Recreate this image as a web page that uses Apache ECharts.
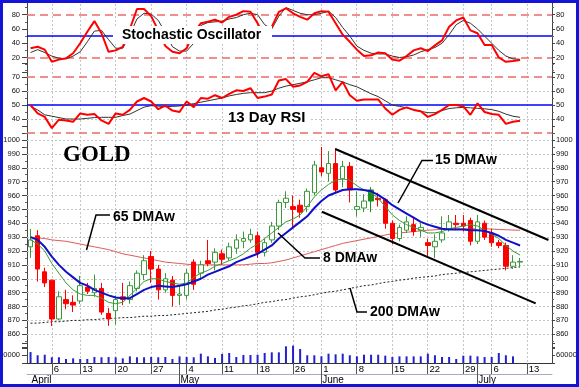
<!DOCTYPE html>
<html><head><meta charset="utf-8">
<script src="https://cdn.jsdelivr.net/npm/echarts@6/dist/echarts.min.js"></script>
<style>
html,body{margin:0;padding:0;background:#fff}
#wrap{position:relative;width:579px;height:387px;overflow:hidden}
#c{position:absolute;left:0;top:0;width:579px;height:387px}
#frame{position:absolute;left:0;top:0;width:579px;height:387px;box-sizing:border-box;border:3px solid #1414d8;pointer-events:none}
</style></head><body>
<div id="wrap"><div id="c"></div><div id="frame"></div></div>
<script>
// ---- categories (trading days) ----
const dates = ['2009-04-01','2009-04-02','2009-04-03','2009-04-06','2009-04-07','2009-04-08','2009-04-09','2009-04-13','2009-04-14','2009-04-15','2009-04-16','2009-04-17','2009-04-20','2009-04-21','2009-04-22','2009-04-23','2009-04-24','2009-04-27','2009-04-28','2009-04-29','2009-04-30',
'2009-05-01','2009-05-04','2009-05-05','2009-05-06','2009-05-07','2009-05-08','2009-05-11','2009-05-12','2009-05-13','2009-05-14','2009-05-15','2009-05-18','2009-05-19','2009-05-20','2009-05-21','2009-05-22','2009-05-26','2009-05-27','2009-05-28','2009-05-29',
'2009-06-01','2009-06-02','2009-06-03','2009-06-04','2009-06-05','2009-06-08','2009-06-09','2009-06-10','2009-06-11','2009-06-12','2009-06-15','2009-06-16','2009-06-17','2009-06-18','2009-06-19','2009-06-22','2009-06-23','2009-06-24','2009-06-25','2009-06-26','2009-06-29','2009-06-30',
'2009-07-01','2009-07-02','2009-07-06','2009-07-07','2009-07-08','2009-07-09','2009-07-10','2009-07-13','2009-07-14','2009-07-15','2009-07-16'];
const weekTicks = ['2009-04-06','2009-04-13','2009-04-20','2009-04-27','2009-05-04','2009-05-11','2009-05-18','2009-05-26','2009-06-01','2009-06-08','2009-06-15','2009-06-22','2009-06-29','2009-07-06','2009-07-13'];
const monthStarts = ['2009-04-01','2009-05-01','2009-06-01','2009-07-01'];
const monthNames = ['April','May','June','July'];

// ---- price (OHLC) ----
const open  = [923,931,905,899,871,885,883,884,894,890, 893,875,877,887,885,893,903,916,907,892, 899,888,888,912,904,913,912,918,915,922, 927,928,931,919,928,938,955,952,953,952, 962,980,976,983,972,981,950,951,956,958, 957,940,929,935,939,935,926,923,928,936, 940,940,942,927,940,933,926,924,909,912];
const close = [928,907,897,871,887,882,881,895,891,893, 876,871,885,885,895,904,913,907,892,900, 888,889,904,896,910,911,919,914,923,928, 929,932,919,926,938,955,958,950,948,963, 982,977,983,964,981,964,952,956,964,957, 940,929,937,941,934,937,924,927,933,941, 939,938,927,941,930,926,924,909,912,912.5];
const high  = [936,935,908,899,891,892,888,902,897,903, 897,879,888,897,898,906,917,920,910,904, 902,895,907,914,913,928,922,921,926,932, 934,936,934,929,941,957,963,960,957,965, 985,995,992,994,985,984,963,961,966,962, 958,942,939,945,944,940,929,932,945,946, 946,946,944,946,942,936,928,926,917,915];
const low   = [915,898,894,866,870,878,876,882,889,887, 874,866,867,881,882,891,899,897,885,890, 880,881,885,892,900,909,906,910,913,918, 922,926,915,916,926,935,951,937,944,948, 960,974,970,962,966,955,945,948,948,952, 936,925,927,933,931,930,915,915,926,934, 935,934,924,925,928,923,922,906,907,908];
const ma8   = [928,925,920,911,904,897,892,889,888,888, 886,883,882,883,888,893,898,900,900,898, 897,896,897,901,904,906,909,911,913,915, 918,922,925,929,933,937,941,943,946,952, 959,964,968,971,972,971,967,964,962,958, 952,946,942,939,937,935,933,933,934,936, 937,938,939,938,935,932,929,924,920,917];
const ma15  = [930,928,923,916,910,905,901,897,895,892, 890,888,886.5,886,886,889,892,894,895,894.5, 894,895,896,898,900,903,905,907,909,912, 914,916,918,921,924,929,933,937,941,945, 951,956,960,962,964,964.5,964.5,964,963,960.5, 957,953,950,947,944,941,939,937.5,936,935.5, 935.5,935.5,935,935,934.5,933,931,928,926,924];
const ma65  = [930,929.5,929,928,927.5,927,926,925,924,923, 922,921,919.5,918,917,916,915,914,913,912, 911.5,911,910.5,910,910,910,910,910,910,910, 910,910.5,911,911,911.5,912.5,913.5,915,916.5,918, 919.5,921,922.5,924,925.5,926.5,927.5,928.5,929.5,930.5, 931.5,932.5,933,933.5,934,934.5,935,935.3,935.6,935.8, 936,936,936,936,936,935.8,935.5,935.3,935.1,935];
const ma200 = [868,868,868.5,869,869,869.5,870,870,870.5,870.5, 871,871.5,871.5,872,872,872.5,873,873,873.5,873.5, 874,874.5,875,875.5,876,876.5,877.5,878,879,879.5, 880.5,881,882,883,883.5,884.5,885,886,887,887.5, 888.5,889.5,890.5,891,892,893,894,895,895.5,896.5, 897.5,898,899,899.5,900.5,901,901.5,902,903,903.5, 904,904.5,905,905.5,906,906.5,907,907.5,908,908.7];
const volume = [82000,58000,62000,43000,43000,30000,35000,30000,30000,45000, 43000,45000,43000,35000,50000,43000,43000,45000,43000,45000, 30000,50000,45000,43000,70000,50000,38000,68000,75000,45000, 60000,60000,62000,75000,80000,80000,125000,130000,105000,58000, 58000,50000,70000,65000,70000,58000,50000,62000,62000,62000, 55000,45000,50000,50000,50000,50000,70000,58000,45000,45000, 30000,55000,55000,50000,45000,45000,75000,58000,50000,null];
const upperChannel = [[42.95,993.5],[73.0,927.9]];
const lowerChannel = [[41.07,948.3],[71.2,882.3]];

// ---- oscillators ----
const stochK = [33,35,31,14,17,19,26,40,56,71, 54,28,30,35,60,88,88,78,58,36, 28,26,33,55,68,70,73,69,77,80, 85,84,68,48,63,84,89,82,77,73, 82,85,84,68,52,42,31,22,23,27, 26,17,15.5,22,30,33,29,37,44,63, 72,76,58,54,37.5,37.5,20,14,15,16.5];
const stochD = [27,31,27,22,19,18,22,28,42,57, 58,45,33,33,52,74,82,81,72,55, 35,29,29,40,65,69,70,71,74,76, 80,82,80,66,60,78,90,86,82,80, 80,82,85,76,62,50,36,30,26,25, 25,22,20,21,23.5,28,31,34,40,52, 66,72,68,60,50,40,30,22,18,17.5];
const rsi    = [50,44,41.5,33.5,39.5,39,38,44,43,43.5, 39,36.5,44,43,46.5,52.5,55,52.5,47,49.5, 46,45,52.5,48.5,55,54.5,57,55,58,60.5, 60,62,55,56,57.5,67.5,68.5,63,64,66.5, 73,70.5,72,60.5,66.5,57,53,54,54,54, 47.5,43,46.5,48.3,46.5,45.5,41.5,43.5,46.5,50, 50,49,43,51.2,45,43.6,43,36.5,38,38.8];
const rsiSig = [49,46.5,43,42,41,40,40,40,40.5,41, 41.2,41.2,41.2,42.5,43.5,46,48.5,49.5,49.2,48.8, 49,49.3,50,51,52,53,54,55,56.5,57.5, 58.3,58.8,58.8,58.8,60,62,63.5,64.5,65.5,66.6, 68,69.5,69.5,68,66.5,64.5,63,60.5,58,56, 53,50,49,48,46.5,45.5,44.5,44.5,46,47.5, 48,48.3,48,47.6,47.3,46.7,45.5,43.5,42,41.2];

// ---- axis ticks ----
const priceGrid = [860,870,880,890,900,910,920,930,940,950,960,970,980,990,1000];
const stochLevels = {over:80, mid:50, under:20};
const rsiLevels = {over:70, mid:50, under:30, grid:[60,40]};
const specialCandles = {'2009-06-10':'#1e8c1e'};

const F = '"Liberation Sans", Arial, sans-serif';
const chart = echarts.init(document.getElementById('c'), null, {renderer:'canvas', width:579, height:387});

const candleData = dates.slice(0, open.length).map((d, i) => {
  const v = [open[i], close[i], low[i], high[i]];
  if (specialCandles[d]) return {value: v, itemStyle: {color: specialCandles[d], borderColor: specialCandles[d]}};
  return v;
});

const L = 27, R = 27;
const grids = [
  {left:L, right:R, top:0.43, height:71.33, outerBoundsMode:'none'},
  {left:L, right:R, top:63, height:84, outerBoundsMode:'none'},
  {left:L, right:R, top:126.125, height:222, outerBoundsMode:'none'},
  {left:L, right:R, top:343, height:20, outerBoundsMode:'none'},
  {left:30.5, right:30.9, top:4, height:359, outerBoundsMode:'none'}
];
const hiddenCat = gi => ({type:'category', gridIndex:gi, data:dates, boundaryGap:true, show:false});
const yStyle = (gi, pos, min, max, interval, fmt, minor) => ({
  type:'value', gridIndex:gi, position:pos, min:min, max:max, interval:interval,
  axisLine:{show:true, onZero:false, lineStyle:{color:'#444', width:1}},
  axisTick:{show:true, length: pos==='left'?5:3, lineStyle:{color:'#444'}},
  minorTick:{show:!!minor, splitNumber:minor||1, length:2, lineStyle:{color:'#666'}},
  splitLine:{show:false},
  axisLabel:{show:true, fontFamily:F, fontSize:7.5, color:'#111', margin: pos==='left'?7:4, formatter:fmt}
});
const fStoch = v => (v>=20 && v<=80) ? String(v) : '';
const fRsi = v => (v>=40 && v<=70) ? String(v) : '';
const fPrice = v => (v>=860 && v<=1000) ? String(v) : '';
const fVol = v => v===60000 ? '60000' : '';

const refLine = (v, color, type, w) => ({yAxis:v, lineStyle:{color:color, type:type, width:w}});

const option = {
  animation:false,
  backgroundColor:'#fff',
  grid: grids,
  xAxis: [
    hiddenCat(0), hiddenCat(1), hiddenCat(2),
    {type:'value', gridIndex:2, min:-0.5, max:dates.length-0.5, show:false},
    {type:'category', gridIndex:3, data:dates, boundaryGap:true, position:'bottom',
      axisLine:{show:true, onZero:false, lineStyle:{color:'#333', width:1}}, axisTick:{show:false}, axisLabel:{show:false}},
    {type:'category', gridIndex:3, data:dates, boundaryGap:true, position:'bottom', offset:11,
      axisLine:{show:true, onZero:false, lineStyle:{color:'#aab', width:1}}, axisTick:{show:false}, axisLabel:{show:false}},
    {type:'category', gridIndex:4, data:dates, boundaryGap:false, position:'bottom',
      axisLine:{show:false, onZero:false},
      axisTick:{show:true, length:11, interval:(i,v)=>weekTicks.indexOf(v)>=0, lineStyle:{color:'#555'}},
      axisLabel:{show:true, interval:(i,v)=>weekTicks.indexOf(v)>=0, formatter:v=>String(parseInt(v.slice(8),10)),
        align:'left', padding:[0,0,0,2], margin:1, fontFamily:F, fontSize:9.5, color:'#000'},
      splitLine:{show:true, interval:(i,v)=>weekTicks.indexOf(v)>=0, lineStyle:{color:'#c4c4c4', type:[2,2], width:1}}},
    {type:'category', gridIndex:4, data:dates, boundaryGap:false, position:'bottom',
      axisLine:{show:false, onZero:false},
      axisTick:{show:true, length:22, interval:(i,v)=>i>0 && monthStarts.indexOf(v)>=0, lineStyle:{color:'#555'}},
      axisLabel:{show:true, interval:(i,v)=>monthStarts.indexOf(v)>=0, formatter:v=>monthNames[monthStarts.indexOf(v)],
        align:'left', padding:[0,0,0,1], margin:12, fontFamily:F, fontSize:10, color:'#000'},
      splitLine:{show:false}}
  ],
  yAxis: [
    yStyle(0,'left',0,100,20,fStoch,2), yStyle(0,'right',0,100,20,fStoch,2),
    yStyle(1,'left',20,80,10,fRsi,2), yStyle(1,'right',20,80,10,fRsi,2),
    yStyle(2,'left',850,1010,10,fPrice,2), yStyle(2,'right',850,1010,10,fPrice,2),
    yStyle(3,'left',0,150000,60000,fVol,0), yStyle(3,'right',0,150000,60000,fVol,0),
    {type:'value', gridIndex:4, show:false}
  ],
  series: [
    // stochastic
    {type:'line', xAxisIndex:0, yAxisIndex:0, data:stochD, symbol:'none', z:3, lineStyle:{color:'#333', width:1}},
    {type:'line', xAxisIndex:0, yAxisIndex:0, data:stochK, symbol:'none', z:4, lineStyle:{color:'#ff0000', width:2},
      markLine:{silent:true, symbol:'none', label:{show:false}, z:2,
        data:[refLine(stochLevels.over,'#f06a6a',[8,5],1.5), refLine(stochLevels.under,'#f06a6a',[8,5],1.5), refLine(stochLevels.mid,'#0000ff','solid',1.5)]}},
    // RSI
    {type:'line', xAxisIndex:1, yAxisIndex:2, data:rsiSig, symbol:'none', z:3, lineStyle:{color:'#333', width:1}},
    {type:'line', xAxisIndex:1, yAxisIndex:2, data:rsi, symbol:'none', z:4, lineStyle:{color:'#ff0000', width:2},
      markLine:{silent:true, symbol:'none', label:{show:false}, z:2,
        data:[refLine(rsiLevels.over,'#f06a6a',[8,5],1.5), refLine(rsiLevels.under,'#f06a6a',[8,5],1.5), refLine(rsiLevels.mid,'#0000ff','solid',1.5)]
          .concat(rsiLevels.grid.map(v=>refLine(v,'#c4c4c4',[2,2],1)))}},
    // price grid lines + 200 DMA
    {type:'line', xAxisIndex:2, yAxisIndex:4, data:ma200, symbol:'none', z:2, lineStyle:{color:'#222', width:1, type:[2,2]},
      markLine:{silent:true, symbol:'none', label:{show:false}, z:1, lineStyle:{color:'#c4c4c4', type:[2,2], width:1},
        data: priceGrid.map(v=>({yAxis:v}))}},
    {type:'line', xAxisIndex:2, yAxisIndex:4, data:ma65, symbol:'none', z:3, lineStyle:{color:'#e05a5a', width:1}},
    {type:'candlestick', xAxisIndex:2, yAxisIndex:4, data:candleData, barWidth:5, z:4,
      itemStyle:{color:'#ffffff', borderColor:'#3a9a3a', color0:'#ff0000', borderColor0:'#ff0000', borderWidth:1}},
    {type:'line', xAxisIndex:2, yAxisIndex:4, data:ma8, symbol:'none', z:5, lineStyle:{color:'#3a9a3a', width:1}},
    {type:'line', xAxisIndex:2, yAxisIndex:4, data:ma15, symbol:'none', z:6, lineStyle:{color:'#1010c8', width:2}},
    {type:'line', xAxisIndex:3, yAxisIndex:4, data:upperChannel, symbol:'none', z:6, lineStyle:{color:'#000', width:2}},
    {type:'line', xAxisIndex:3, yAxisIndex:4, data:lowerChannel, symbol:'none', z:6, lineStyle:{color:'#000', width:2}},
    // volume
    {type:'bar', xAxisIndex:4, yAxisIndex:6, data:volume, barWidth:2, itemStyle:{color:'#2222cc'}}
  ],
  graphic: [
    {type:'rect', shape:{x:113, y:26, width:159, height:18}, style:{fill:'#fff'}, z:100},
    {type:'text', x:122, y:35, z:101, style:{text:'Stochastic Oscillator', font:'bold 14px '+F, fill:'#000', verticalAlign:'middle'}},
    {type:'rect', shape:{x:224, y:108, width:87, height:19}, style:{fill:'#fff'}, z:100},
    {type:'text', x:228, y:118, z:101, style:{text:'13 Day RSI', font:'bold 15px '+F, fill:'#000', verticalAlign:'middle'}},
    {type:'text', x:63, y:155.5, z:101, style:{text:'GOLD', font:'bold 23px "Liberation Serif", "Times New Roman", serif', fill:'#000', verticalAlign:'middle'}},
    {type:'text', x:113, y:217.5, z:101, style:{text:'65 DMAw', font:'bold 14px '+F, fill:'#000', verticalAlign:'middle'}},
    {type:'polyline', z:101, shape:{points:[[110,215],[96,215],[86.5,250]]}, style:{stroke:'#000', lineWidth:1.5, fill:null}},
    {type:'text', x:323, y:258.5, z:101, style:{text:'8 DMAw', font:'bold 14px '+F, fill:'#000', verticalAlign:'middle'}},
    {type:'polyline', z:101, shape:{points:[[278,233],[305,258],[320,258]]}, style:{stroke:'#000', lineWidth:1.5, fill:null}},
    {type:'text', x:435, y:160.5, z:101, style:{text:'15 DMAw', font:'bold 14px '+F, fill:'#000', verticalAlign:'middle'}},
    {type:'polyline', z:101, shape:{points:[[398,203],[422,160.5],[433,160.5]]}, style:{stroke:'#000', lineWidth:1.5, fill:null}},
    {type:'text', x:370, y:312.5, z:101, style:{text:'200 DMAw', font:'bold 14px '+F, fill:'#000', verticalAlign:'middle'}},
    {type:'polyline', z:101, shape:{points:[[350,288],[357,312],[367,312]]}, style:{stroke:'#000', lineWidth:1.5, fill:null}}
  ]
};
chart.setOption(option);
</script>
</body></html>
